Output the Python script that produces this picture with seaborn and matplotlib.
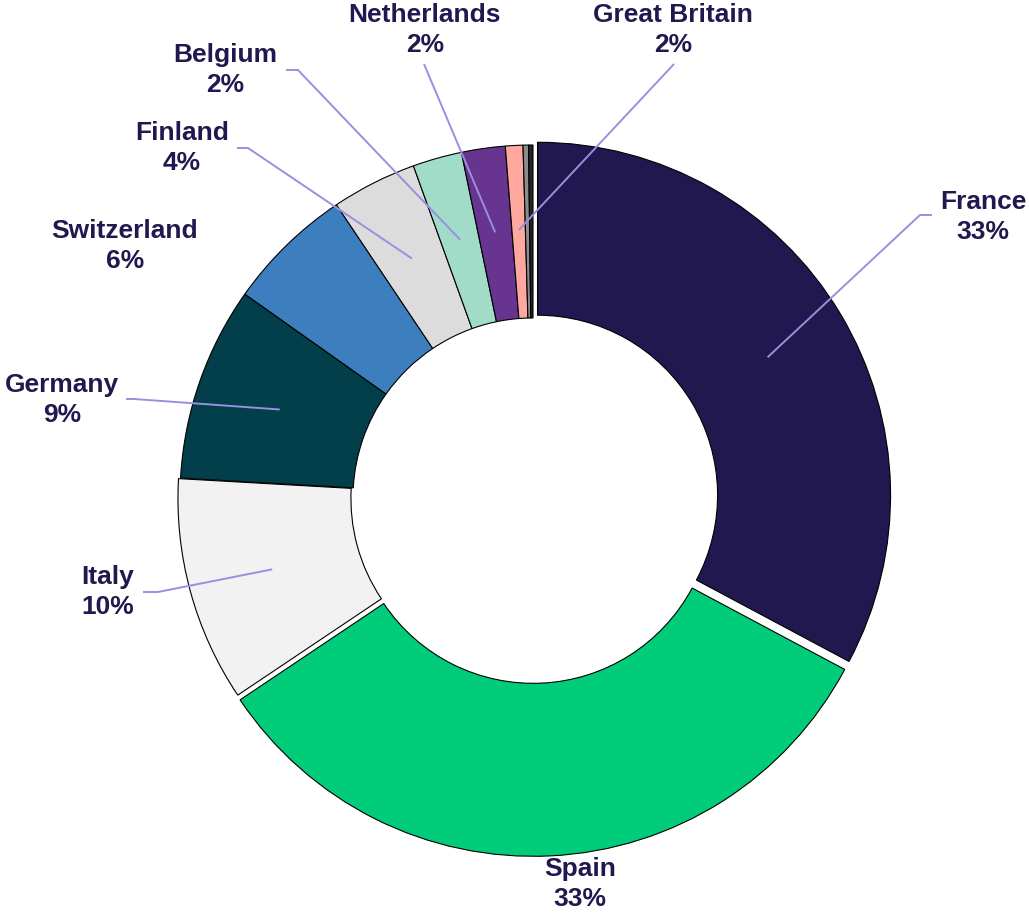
import numpy as np
import matplotlib
matplotlib.use("Agg")
import matplotlib.pyplot as plt
import seaborn as sns

# chart data (clockwise from 12 o'clock)
countries = ['France', 'Spain', 'Italy', 'Germany', 'Switzerland', 'Finland',
             'Belgium', 'Netherlands', 'Great Britain', 'Other 1', 'Other 2']
shares = [32.8, 32.8, 10.3, 8.9, 5.8, 3.9, 2.25, 2.0, 0.8, 0.25, 0.2]
pct_labels = ['33%', '33%', '10%', '9%', '6%', '4%', '2%', '2%', '2%', '', '']
colors = ['#20184E', '#00CC7A', '#F2F2F2', '#023F4A', '#3D7EBF', '#DCDCDC',
          '#A0DCC8', '#673490', '#FFA8A0', '#8C8C8C', '#262626']
explode = [0.015, 0.015, 0.006, 0, 0, 0, 0, 0, 0, 0, 0]

sns.set_style('white')
plt.rcParams['font.family'] = ['Liberation Sans', 'DejaVu Sans']

W, H = 1029, 913
cx, cy, R = 533, 498, 353  # pixel centre and radius of the donut

fig = plt.figure(figsize=(W / 100, H / 100), dpi=100)
ax = fig.add_axes([0, 0, 1, 1])

def px(x, y):
    # pixel position -> data coords
    return (x - cx) / R, (cy - y) / R

wedges, _ = ax.pie(shares, colors=colors, startangle=90, counterclock=False,
                   explode=explode, radius=1,
                   wedgeprops=dict(width=0.49, edgecolor='black', linewidth=0.8))

# pie() rescales the axes, so fix the limits afterwards
ax.set_xlim(-cx / R, (W - cx) / R)
ax.set_ylim((cy - H) / R, cy / R)
ax.set_aspect('equal')
ax.axis('off')

# label placement: text centre, and leader line start (stub) or None
label_pos = {
    'France': ((983, 217), [(932, 215), (920, 215)]),
    'Spain': ((580, 884), None),
    'Italy': ((108, 592), [(143, 592), (158, 592)]),
    'Germany': ((62, 400), [(126, 399), (134, 399)]),
    'Switzerland': ((125, 246), None),
    'Finland': ((182, 148), [(237, 148), (248, 148)]),
    'Belgium': ((225, 70), [(286, 70), (298, 70)]),
    'Netherlands': ((425, 30), [(424, 64)]),
    'Great Britain': ((673, 30), [(674, 64)]),
}

for i, name in enumerate(countries):
    if name not in label_pos:
        continue
    (tx, ty), stub = label_pos[name]
    x, y = px(tx, ty)
    ax.text(x, y, f'{name}\n{pct_labels[i]}', ha='center', va='center',
            fontsize=19, fontweight='bold', color='#20184E', linespacing=1.3)
    if stub is None:
        continue
    w = wedges[i]
    mid = np.deg2rad((w.theta1 + w.theta2) / 2)
    ex = w.center[0] + 0.76 * np.cos(mid)
    ey = w.center[1] + 0.76 * np.sin(mid)
    pts = [px(*p) for p in stub] + [(ex, ey)]
    ax.plot([p[0] for p in pts], [p[1] for p in pts], color='#9B8EE0',
            linewidth=1.4, solid_capstyle='butt')

fig.savefig('out.png', dpi=100)
